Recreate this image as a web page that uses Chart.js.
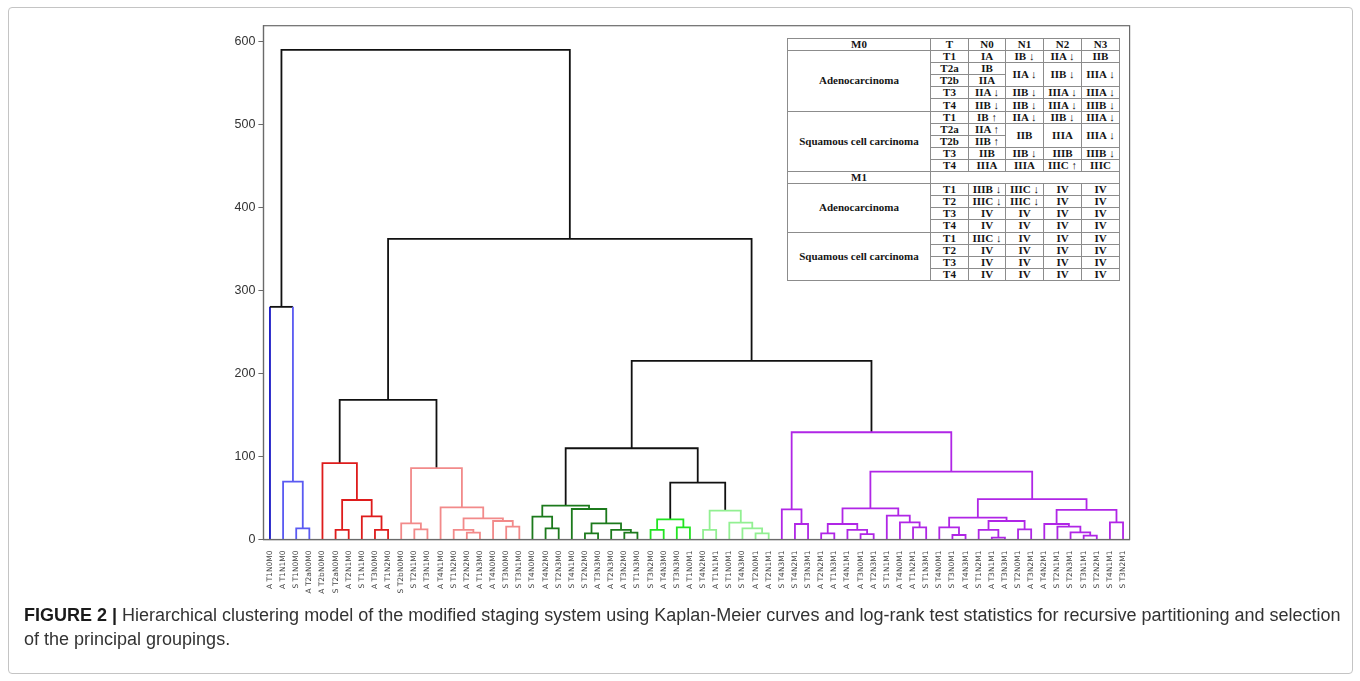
<!DOCTYPE html>
<html>
<head>
<meta charset="utf-8">
<script src="https://cdn.jsdelivr.net/npm/chart.js@4.4.1/dist/chart.umd.min.js"></script>
<style>
  html, body { margin: 0; padding: 0; background: #fff; }
  #page { position: relative; width: 1360px; height: 681px; overflow: hidden; }
  #frame { position: absolute; left: 8px; top: 7px; width: 1343px; height: 665px;
           border: 1px solid #c4c4c4; border-radius: 4px; }
  #dendro { position: absolute; left: 0; top: 0; }
  #stage { position: absolute; left: 787px; top: 38px; width: 332px; height: 242px;
           border-collapse: collapse; table-layout: fixed; background: #fff;
           font: bold 11px 'Liberation Serif', 'DejaVu Serif', serif; color: #151515; }
  #stage td { border: 1px solid #8c8c8c; padding: 0; text-align: center;
              line-height: 11px; white-space: nowrap; overflow: hidden; }
  #stage tr { height: 12.1px; }
  #caption { position: absolute; left: 24px; top: 603px; width: 1330px;
             font: 18px 'Liberation Sans', Arial, sans-serif; line-height: 24px; color: #333; }
  #caption b { color: #1a1a1a; }
</style>
</head>
<body>
<div id="page">
  <div id="frame"></div>
  <canvas id="dendro" width="1360" height="681"></canvas>

  <table id="stage">
    <colgroup>
      <col style="width:143px"><col style="width:38px"><col style="width:37px">
      <col style="width:38px"><col style="width:38px"><col style="width:38px">
    </colgroup>
    <tr><td>M0</td><td>T</td><td>N0</td><td>N1</td><td>N2</td><td>N3</td></tr>
    <tr><td rowspan="5">Adenocarcinoma</td><td>T1</td><td>IA</td><td>IB ↓</td><td>IIA ↓</td><td>IIB</td></tr>
    <tr><td>T2a</td><td>IB</td><td rowspan="2">IIA ↓</td><td rowspan="2">IIB ↓</td><td rowspan="2">IIIA ↓</td></tr>
    <tr><td>T2b</td><td>IIA</td></tr>
    <tr><td>T3</td><td>IIA ↓</td><td>IIB ↓</td><td>IIIA ↓</td><td>IIIA ↓</td></tr>
    <tr><td>T4</td><td>IIB ↓</td><td>IIB ↓</td><td>IIIA ↓</td><td>IIIB ↓</td></tr>
    <tr><td rowspan="5">Squamous cell carcinoma</td><td>T1</td><td>IB ↑</td><td>IIA ↓</td><td>IIB ↓</td><td>IIIA ↓</td></tr>
    <tr><td>T2a</td><td>IIA ↑</td><td rowspan="2">IIB</td><td rowspan="2">IIIA</td><td rowspan="2">IIIA ↓</td></tr>
    <tr><td>T2b</td><td>IIB ↑</td></tr>
    <tr><td>T3</td><td>IIB</td><td>IIB ↓</td><td>IIIB</td><td>IIIB ↓</td></tr>
    <tr><td>T4</td><td>IIIA</td><td>IIIA</td><td>IIIC ↑</td><td>IIIC</td></tr>
    <tr><td>M1</td><td colspan="5"></td></tr>
    <tr><td rowspan="4">Adenocarcinoma</td><td>T1</td><td>IIIB ↓</td><td>IIIC ↓</td><td>IV</td><td>IV</td></tr>
    <tr><td>T2</td><td>IIIC ↓</td><td>IIIC ↓</td><td>IV</td><td>IV</td></tr>
    <tr><td>T3</td><td>IV</td><td>IV</td><td>IV</td><td>IV</td></tr>
    <tr><td>T4</td><td>IV</td><td>IV</td><td>IV</td><td>IV</td></tr>
    <tr><td rowspan="4">Squamous cell carcinoma</td><td>T1</td><td>IIIC ↓</td><td>IV</td><td>IV</td><td>IV</td></tr>
    <tr><td>T2</td><td>IV</td><td>IV</td><td>IV</td><td>IV</td></tr>
    <tr><td>T3</td><td>IV</td><td>IV</td><td>IV</td><td>IV</td></tr>
    <tr><td>T4</td><td>IV</td><td>IV</td><td>IV</td><td>IV</td></tr>
  </table>

  <div id="caption"><b>FIGURE 2 |</b> Hierarchical clustering model of the modified staging system using Kaplan-Meier curves and log-rank test statistics for recursive partitioning and selection<br>of the principal groupings.</div>
</div>

<script>
// leaves in dendrogram order
var leafLabels = [
  'A T1N0M0','A T1N1M0','S T1N0M0','A T2aN0M0','A T2bN0M0','S T2aN0M0','A T2N1M0','S T1N1M0',
  'A T3N0M0','A T1N2M0','S T2bN0M0','S T2N1M0','A T3N1M0','A T4N1M0','S T1N2M0','A T2N2M0',
  'A T1N3M0','A T4N0M0','S T3N0M0','S T3N1M0','S T4N0M0','A T4N2M0','S T2N3M0','S T4N1M0',
  'S T2N2M0','A T3N3M0','A T2N3M0','A T3N2M0','S T1N3M0','S T3N2M0','A T4N3M0','S T3N3M0',
  'A T1N0M1','S T4N2M0','A T1N1M1','S T1N0M1','S T4N3M0','A T2N0M1','A T2N1M1','S T4N3M1',
  'S T4N2M1','S T3N3M1','A T2N2M1','A T1N3M1','A T4N1M1','A T3N0M1','A T2N3M1','S T1N1M1',
  'A T4N0M1','A T1N2M1','S T1N3M1','S T4N0M1','S T3N0M1','A T4N3M1','S T1N2M1','A T3N1M1',
  'A T3N3M1','S T2N0M1','A T3N2M1','A T4N2M1','S T2N1M1','S T2N3M1','S T3N1M1','S T2N2M1',
  'S T4N1M1','S T3N2M1'
];

// linkage rows: [left id, right id, height]; node ids start at leafLabels.length
var linkage = [
  [2,3,13.5],[1,66,69.7],
  [5,6,11.5],[8,9,11.5],[7,69,28],[68,70,47.6],[4,71,92],
  [11,12,12.3],[10,73,19.5],[15,16,8.2],[14,75,11.5],[18,19,15.5],[17,77,22.3],[76,78,25.5],[13,79,38.8],[74,80,86],
  [21,22,13.5],[20,82,27.5],[24,25,7.5],[27,28,8.2],[26,85,11.5],[84,86,19.5],[23,87,36.8],[83,88,40.8],
  [29,30,11.5],[31,32,14.7],[90,91,24.3],
  [33,34,11.5],[37,38,7.5],[36,94,13.5],[35,95,20.3],[93,96,34.8],
  [40,41,18.7],[39,98,36.4],[42,43,7.5],[45,46,6.6],[44,101,11.5],[100,102,18.7],[49,50,14.7],[48,104,20.7],
  [47,105,28.7],[103,106,37.6],[52,53,5.4],[51,108,14.7],[55,56,2.2],[54,110,11.5],[57,58,12.3],[111,112,22.3],
  [109,113,26.3],[62,63,4.6],[61,115,8.6],[60,116,15.5],[59,117,18.7],[64,65,20.7],[118,119,35.6],[114,120,48.8],
  [107,121,81.8],[99,122,129.3],
  [0,67,280.5],[72,81,168.3],[92,97,68.5],[89,126,110],[127,123,215.3],[125,128,362.5],[124,129,590.4]
];

// cluster of each linkage row
var linkGroup = [
  'blue','blue',
  'red','red','red','red','red',
  'salmon','salmon','salmon','salmon','salmon','salmon','salmon','salmon','salmon',
  'dkgreen','dkgreen','dkgreen','dkgreen','dkgreen','dkgreen','dkgreen','dkgreen',
  'green','green','green',
  'ltgreen','ltgreen','ltgreen','ltgreen','ltgreen',
  'purple','purple','purple','purple','purple','purple','purple','purple','purple','purple',
  'purple','purple','purple','purple','purple','purple','purple','purple','purple','purple',
  'purple','purple','purple','purple','purple','purple',
  'blue','black','black','black','black','black','black'
];

var yTicks = [0, 100, 200, 300, 400, 500, 600];

var palette = {
  blue: '#5a5af2', red: '#de1c1c', salmon: '#f28a8a', dkgreen: '#1c7a1c',
  green: '#22e422', ltgreen: '#92f092', purple: '#b026e6', black: '#111111'
};
var leafBlue = '#1414c4';

// x of leaves and nodes, scipy style (5, 15, 25 ...)
var nodeX = leafLabels.map(function(_, i){ return 5 + 10 * i; });
var nodeY = leafLabels.map(function(){ return 0; });
linkage.forEach(function(r){
  nodeX.push((nodeX[r[0]] + nodeX[r[1]]) / 2);
  nodeY.push(r[2]);
});

var datasets = linkage.map(function(r, i){
  var a = r[0], b = r[1];
  var ds = {
    data: [
      {x: nodeX[a], y: nodeY[a]}, {x: nodeX[a], y: r[2]},
      {x: nodeX[b], y: r[2]}, {x: nodeX[b], y: nodeY[b]}
    ],
    borderColor: palette[linkGroup[i]],
    borderWidth: 1.8,
    pointRadius: 0,
    fill: false,
    tension: 0,
    clip: false
  };
  if (a === 0) {
    // singleton leaf leg dark blue, cross bar black
    ds.segment = { borderColor: function(c){
      if (c.p0DataIndex === 0) return leafBlue;
      if (c.p0DataIndex === 1) return palette.black;
      return undefined;
    } };
  }
  return ds;
});

var framePlugin = {
  id: 'frame',
  afterDatasetsDraw: function(chart){
    var ca = chart.chartArea, c = chart.ctx;
    c.save();
    c.strokeStyle = '#6a6a6a';
    c.lineWidth = 1.2;
    c.strokeRect(ca.left, ca.top, ca.right - ca.left, ca.bottom - ca.top);
    c.restore();
  }
};

var ctx = document.getElementById('dendro').getContext('2d');
var myChart = new Chart(ctx, {
  type: 'line',
  data: { datasets: datasets },
  options: {
    responsive: false,
    animation: false,
    layout: { padding: { left: 213.4, top: 25.7, right: 230.4, bottom: 81.5 } },
    plugins: { legend: { display: false }, tooltip: { enabled: false } },
    scales: {
      x: {
        type: 'linear', min: 0, max: 10 * leafLabels.length,
        afterBuildTicks: function(s){ s.ticks = leafLabels.map(function(_, i){ return {value: 5 + 10 * i}; }); },
        afterFit: function(s){ s.height = 60; },
        ticks: {
          autoSkip: false, maxRotation: 90, minRotation: 90, padding: 3,
          font: { family: 'DejaVu Sans', size: 7.5 }, color: '#444',
          callback: function(v){ return leafLabels[Math.round((v - 5) / 10)]; }
        },
        grid: { display: false },
        border: { color: '#6a6a6a', width: 1.2 }
      },
      y: {
        min: 0, max: 619.5,
        afterBuildTicks: function(s){ s.ticks = yTicks.map(function(v){ return {value: v}; }); },
        afterFit: function(s){ s.width = 50; },
        ticks: { font: { family: 'Liberation Sans', size: 12.5 }, color: '#333', padding: 3 },
        grid: { drawOnChartArea: false, drawTicks: true, tickLength: 5, color: '#6a6a6a' },
        border: { color: '#6a6a6a', width: 1.2 }
      }
    }
  },
  plugins: [framePlugin]
});
</script>
</body>
</html>
